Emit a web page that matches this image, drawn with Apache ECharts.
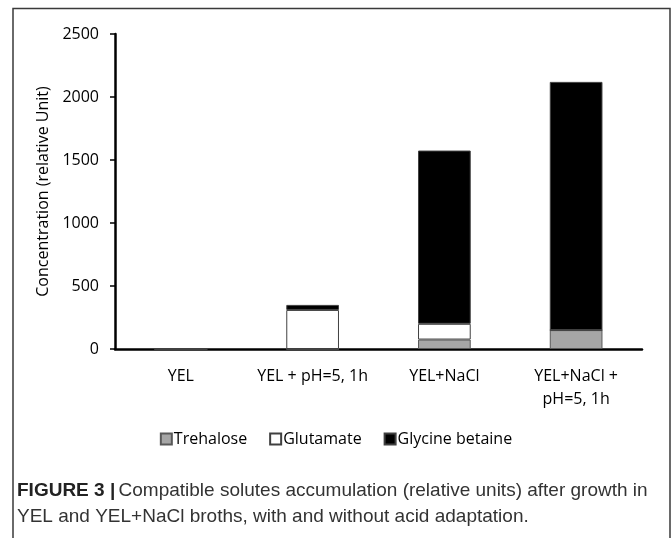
<!DOCTYPE html>
<html>
<head>
<meta charset="utf-8">
<script src="https://cdn.jsdelivr.net/npm/echarts@6/dist/echarts.min.js"></script>
<style>
html,body{margin:0;padding:0;background:#fff;}
#chart{width:672px;height:538px;}
</style>
</head>
<body>
<div id="chart"></div>
<script>
var categories = ['YEL', 'YEL + pH=5, 1h', 'YEL+NaCl', 'YEL+NaCl +\npH=5, 1h'];
var trehalose = [0, 0, 75, 150];
var glutamate = [0, 310, 125, 0];
var glycineBetaine = [0, 40, 1375, 1970];
var yTicks = { min: 0, max: 2500, interval: 500 };
var seriesNames = ['Trehalose', 'Glutamate', 'Glycine betaine'];

var chart = echarts.init(document.getElementById('chart'));
var font = 'Open Sans';
var option = {
  backgroundColor: '#fff',
  animation: false,
  grid: { left: 115, right: 30, top: 34, bottom: 189 },
  legend: {
    data: seriesNames,
    top: 426,
    left: 'center',
    icon: 'rect',
    itemWidth: 11,
    itemHeight: 11,
    itemGap: 22,
    textStyle: { fontFamily: font, fontSize: 16, color: '#000', padding: [0, 0, 0, -3] }
  },
  xAxis: {
    type: 'category',
    data: categories,
    axisLine: { lineStyle: { color: '#000', width: 2.5 } },
    axisTick: { show: false },
    axisLabel: { fontFamily: font, fontSize: 16, color: '#000', margin: 16, lineHeight: 23, interval: 0 }
  },
  yAxis: {
    type: 'value',
    min: yTicks.min, max: yTicks.max, interval: yTicks.interval,
    name: 'Concentration (relative Unit)',
    nameLocation: 'middle',
    nameGap: 60,
    nameTextStyle: { fontFamily: font, fontSize: 16, color: '#000' },
    splitLine: { show: false },
    axisLine: { show: true, lineStyle: { color: '#000', width: 2.5 } },
    axisTick: { show: true, length: 5, lineStyle: { color: '#000', width: 1.5 } },
    axisLabel: { fontFamily: font, fontSize: 16, color: '#000', margin: 16,
      formatter: function (v) { return String(v); } }
  },
  series: [
    { name: seriesNames[0], type: 'bar', stack: 's', data: trehalose, barWidth: '40%',
      itemStyle: { color: '#a6a6a6', borderColor: '#595959', borderWidth: 1 } },
    { name: seriesNames[1], type: 'bar', stack: 's', data: glutamate, barWidth: '40%',
      itemStyle: { color: '#ffffff', borderColor: '#404040', borderWidth: 1 } },
    { name: seriesNames[2], type: 'bar', stack: 's', data: glycineBetaine, barWidth: '40%',
      itemStyle: { color: '#000000', borderColor: '#404040', borderWidth: 1 } }
  ],
  graphic: [
    { type: 'rect', shape: { x: 13, y: 8.5, width: 657, height: 560 },
      style: { fill: 'none', stroke: '#3a3a3a', lineWidth: 1.5 }, z: -1 },
    { type: 'text', left: 17, top: 481,
      style: {
        text: '{b|FIGURE 3 |} {n|Compatible solutes accumulation (relative units) after growth in}\n{n|YEL and YEL+NaCl broths, with and without acid adaptation.}',
        rich: {
          b: { fontFamily: 'Liberation Sans', fontSize: 19, fontWeight: 'bold', fill: '#222', lineHeight: 26 },
          n: { fontFamily: 'Liberation Sans', fontSize: 19, fill: '#333', lineHeight: 26 }
        }
      } }
  ]
};
chart.setOption(option);
</script>
</body>
</html>
